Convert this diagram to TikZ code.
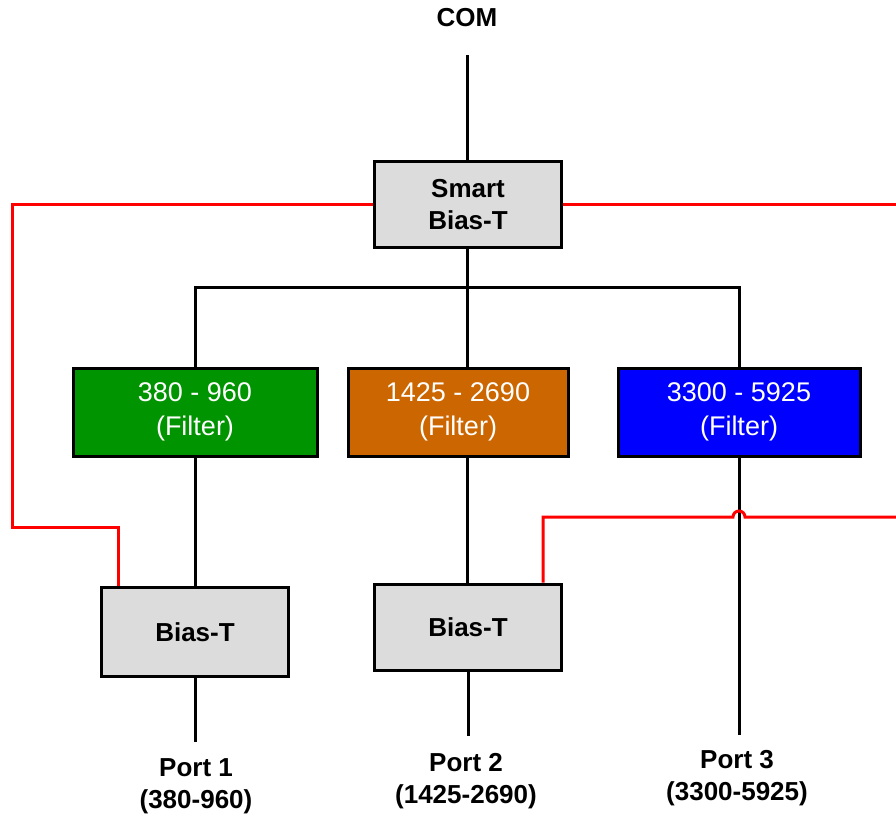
\documentclass[tikz,border=0pt]{standalone}
\usepackage{fontspec}
\setmainfont{Liberation Sans}
\usetikzlibrary{calc}
\definecolor{boxgray}{HTML}{DCDCDC}
\definecolor{fgreen}{HTML}{009400}
\definecolor{forange}{HTML}{CC6600}
\definecolor{fblue}{HTML}{0000FF}
\definecolor{rline}{HTML}{FF0000}
\tikzset{
  blk/.style={draw=black, line width=3pt, fill=boxgray, inner sep=0pt, align=center,
    font=\bfseries\fontsize{26}{32}\selectfont},
  filt/.style={draw=black, line width=3pt, inner sep=0pt, align=center, text=white,
    font=\fontsize{27}{34}\selectfont},
  lbl/.style={inner sep=0pt, align=center, font=\bfseries\fontsize{26}{32}\selectfont},
  wire/.style={line width=3pt, black},
  rwire/.style={line width=3pt, rline, line join=miter}
}
\begin{document}
\begin{tikzpicture}[x=1pt,y=-1pt]
\useasboundingbox (0,0) rectangle (896,818);
\fill[white] (0,0) rectangle (896,818);
% nodes
\node[lbl] (com) at (467,18) {COM};
\node[blk, minimum width=187pt, minimum height=86pt] (smart) at (468,205) {Smart\\Bias-T};
\node[filt, fill=fgreen, minimum width=244pt, minimum height=88pt] (f1) at (195,412) {380 - 960\\(Filter)};
\node[filt, fill=forange, minimum width=220pt, minimum height=88pt] (f2) at (458,412) {1425 - 2690\\(Filter)};
\node[filt, fill=fblue, minimum width=242pt, minimum height=88pt] (f3) at (739,412) {3300 - 5925\\(Filter)};
\node[blk, minimum width=187pt, minimum height=89pt] (b1) at (195,632) {Bias-T};
\node[blk, minimum width=187pt, minimum height=86pt] (b2) at (468,627) {Bias-T};
\node[lbl] (p1) at (196,786) {Port 1\\(380-960)};
\node[lbl] (p2) at (466,781) {Port 2\\(1425-2690)};
\node[lbl] (p3) at (737,778) {Port 3\\(3300-5925)};
% free ends
\coordinate (comend) at (467,55);
\coordinate (split) at (467,287);
\coordinate (p1top) at (195,742);
\coordinate (p2top) at (468,736);
\coordinate (p3top) at (739,735);
\coordinate (redL) at (12,527);
\coordinate (redTR) at (896,205);
\coordinate (redBR) at (896,517);
% black wires
\draw[wire] (comend) -- (comend |- smart.north);
\draw[wire] (split |- smart.south) -- (split);
\draw[wire] (f1.north) |- (split) -| (f3.north);
\draw[wire] (split) -- (split |- f2.north);
\draw[wire] (f1.south) -- (f1.south |- b1.north);
\draw[wire] (split |- f2.south) -- (split |- b2.north);
\draw[wire] (f3.south) -- (p3top);
\draw[wire] (b1.south) -- (p1top);
\draw[wire] (b2.south) -- (p2top);
% red wires
\draw[rwire] (smart.west) -| (redL) -| ([xshift=18pt]b1.north west);
\draw[rwire] (smart.east) -- (redTR);
\draw[rwire] (redBR) -- ($(f3.south |- redBR)+(6,0)$) arc (0:-180:6)
   -- ([xshift=-20pt]b2.north east |- redBR) -- ([xshift=-20pt]b2.north east);
\end{tikzpicture}
\end{document}
